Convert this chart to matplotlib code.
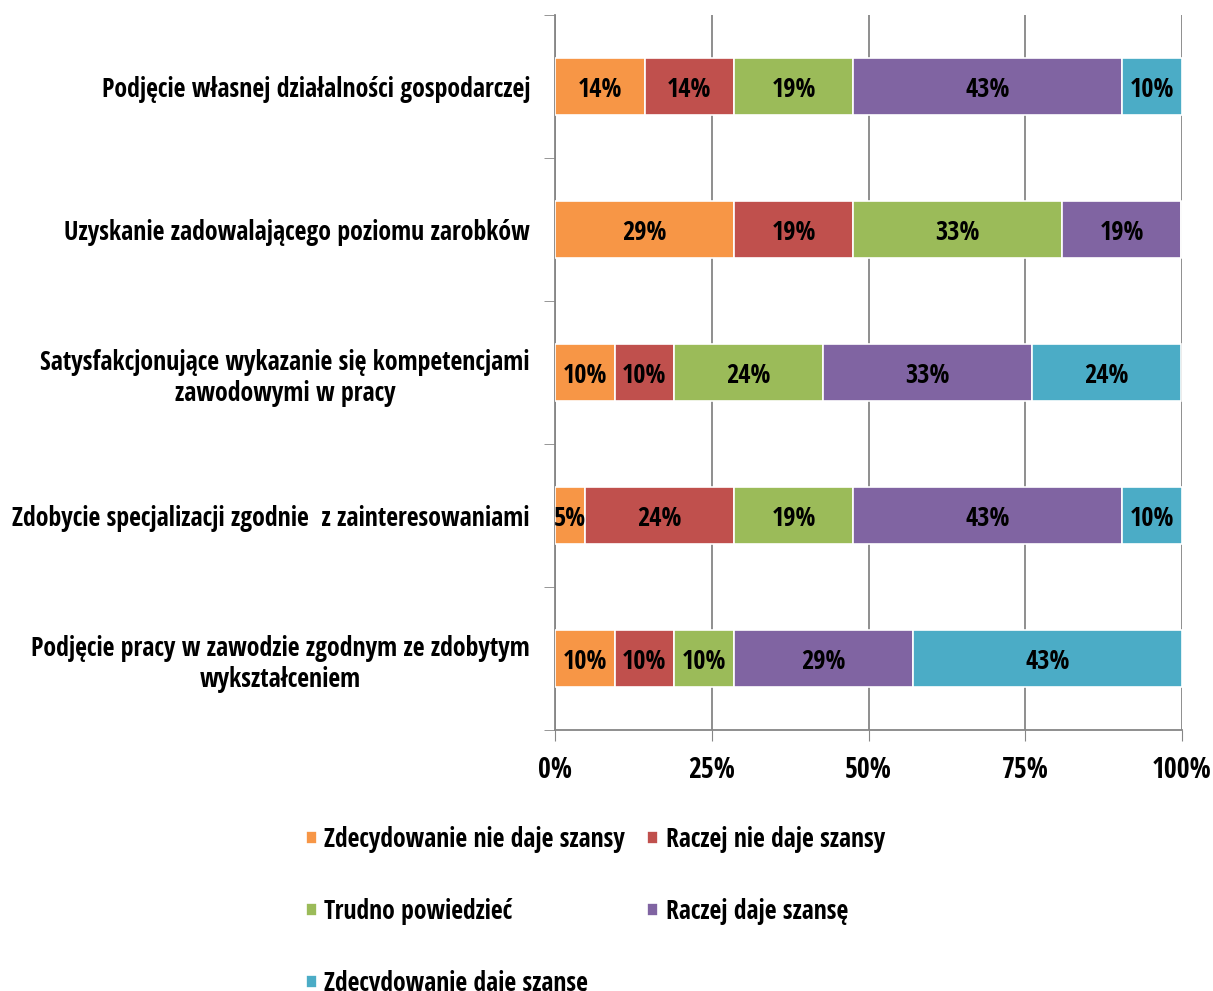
import matplotlib
matplotlib.use("Agg")
import matplotlib.pyplot as plt
import numpy as np

plt.rcParams['font.family'] = ['Open Sans Condensed', 'DejaVu Sans']
plt.rcParams['font.weight'] = 'bold'

categories = [
    "Podjęcie własnej działalności gospodarczej",
    "Uzyskanie zadowalającego poziomu zarobków",
    "Satysfakcjonujące wykazanie się kompetencjami\nzawodowymi w pracy",
    "Zdobycie specjalizacji zgodnie  z zainteresowaniami",
    "Podjęcie pracy w zawodzie zgodnym ze zdobytym\nwykształceniem",
]
series = [
    "Zdecydowanie nie daje szansy",
    "Raczej nie daje szansy",
    "Trudno powiedzieć",
    "Raczej daje szansę",
    "Zdecydowanie daje szansę",
]
# percentages per category (rows) for each series (columns)
values = [
    [14.3, 14.3, 19.0, 42.9, 9.5],
    [28.6, 19.0, 33.3, 19.0, 0.0],
    [9.5, 9.5, 23.8, 33.3, 23.8],
    [4.8, 23.8, 19.0, 42.9, 9.5],
    [9.5, 9.5, 9.5, 28.6, 42.9],
]
xticks = [0, 25, 50, 75, 100]
xticklabels = ["0%", "25%", "50%", "75%", "100%"]
colors = ["#F79646", "#C0504D", "#9BBB59", "#8064A2", "#4BACC6"]

fig = plt.figure(figsize=(12.13, 9.91), dpi=100)
ax = fig.add_axes([555/1213, 1-730/991, 627/1213, 715/991])

vals = np.array(values)
n = len(categories)
y = np.arange(n)
left = np.zeros(n)
handles = []
for j, s in enumerate(series):
    h = ax.barh(y, vals[:, j], left=left, height=0.395, color=colors[j],
                edgecolor='white', linewidth=1.2, label=s, zorder=3)
    handles.append(h)
    for i in range(n):
        v = vals[i, j]
        if v > 0:
            ax.text(left[i] + v/2, y[i], f"{v:.0f}%", ha='center', va='center_baseline',
                    fontsize=19, fontweight='bold', color='black', zorder=4)
    left += vals[:, j]

ax.set_xlim(0, 100)
ax.set_ylim(n - 0.5, -0.5)
ax.set_xticks(xticks)
ax.set_xticklabels(xticklabels, fontsize=20, fontweight='bold')
ax.set_yticks(y)
ax.set_yticklabels(categories, fontsize=18.6, fontweight='bold', multialignment='center')
ax.tick_params(axis='y', length=0, pad=18)
ax.set_yticks(np.arange(-0.5, n, 1), minor=True)
ax.tick_params(axis='y', which='minor', length=8, color='#868686', direction='out')
ax.tick_params(axis='x', length=8, color='#868686', direction='out', pad=11)
ax.xaxis.grid(True, color='#868686', linewidth=1.3, zorder=0)
ax.set_axisbelow(True)
for sp in ['top', 'right']:
    ax.spines[sp].set_visible(False)
for sp in ['left', 'bottom']:
    ax.spines[sp].set_color('#868686')
    ax.spines[sp].set_linewidth(1.3)

order = [0, 2, 4, 1, 3]
fig.legend([handles[k] for k in order], [series[k] for k in order],
           ncol=2, loc='upper left', bbox_to_anchor=(306/1213, 1-826/991),
           frameon=False, prop={'size': 18.5, 'weight': 'bold'},
           handlelength=0.42, handleheight=0.42, handletextpad=0.3,
           labelspacing=1.75, columnspacing=0.85, borderaxespad=0, borderpad=0)

fig.savefig("out.png", dpi=100)
